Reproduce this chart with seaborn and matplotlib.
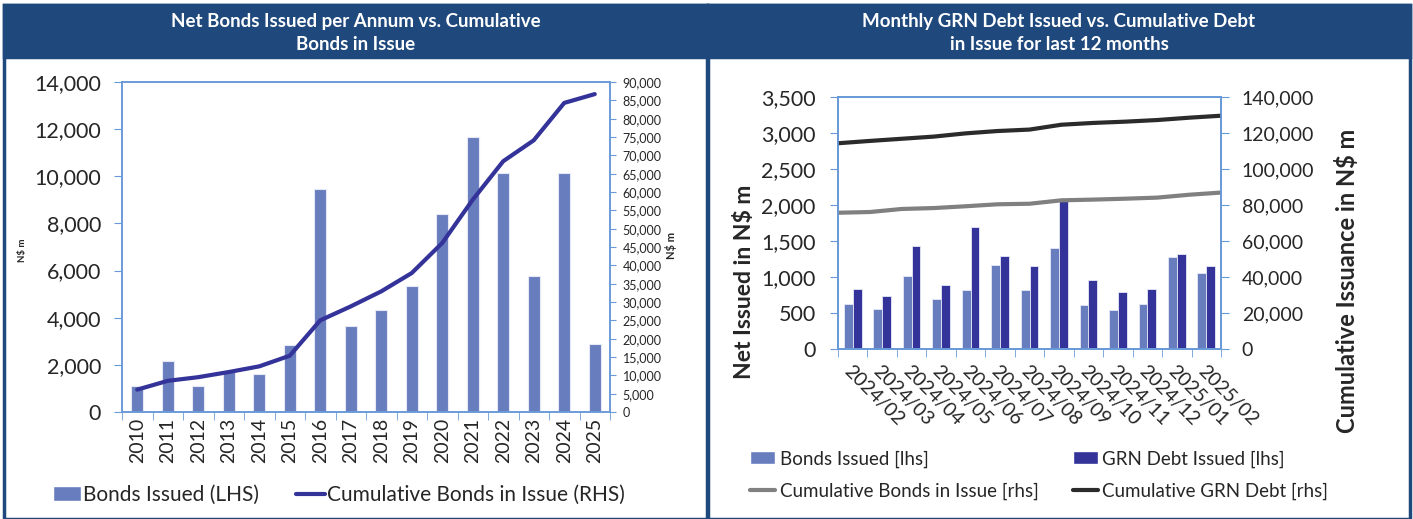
import numpy as np
import pandas as pd
import matplotlib.pyplot as plt
from matplotlib.patches import Rectangle, Patch
from matplotlib.lines import Line2D
import seaborn as sns

# ---- data ----
years = ['2010', '2011', '2012', '2013', '2014', '2015', '2016', '2017',
         '2018', '2019', '2020', '2021', '2022', '2023', '2024', '2025']
bonds_issued = [1090, 2160, 1090, 1690, 1610, 2840, 9470, 3630,
                4330, 5350, 8410, 11660, 10150, 5790, 10120, 2880]
cum_bonds = [6100, 8500, 9500, 10900, 12450, 15350, 25000, 28800,
             32900, 37900, 46100, 57900, 68400, 74100, 84300, 86700]

months = ['2024/02', '2024/03', '2024/04', '2024/05', '2024/06', '2024/07', '2024/08',
          '2024/09', '2024/10', '2024/11', '2024/12', '2025/01', '2025/02']
m_bonds = [625, 550, 1010, 690, 820, 1170, 820, 1400, 610, 540, 630, 1280, 1055]
m_grn = [830, 740, 1425, 890, 1690, 1295, 1150, 2090, 955, 798, 833, 1318, 1158]
m_cum_bonds = [75700, 76100, 77800, 78300, 79300, 80400, 80700,
               82600, 83000, 83500, 84100, 85700, 86900]
m_cum_grn = [114300, 115600, 116800, 118000, 119800, 121100, 121900,
             124600, 125600, 126300, 127200, 128500, 129600]

LIGHT = '#687DBE'
DARK = '#333399'
NAVY = '#1F497D'
AXBLUE = '#6A9BD8'

sns.set_style('white')
plt.rcParams['font.family'] = ['Lato', 'DejaVu Sans']

W, H = 1413, 519
fig = plt.figure(figsize=(W / 100, H / 100), dpi=100)


def rect(x0, y0, x1, y1):
    # pixel box -> figure fraction
    return [x0 / W, 1 - y1 / H, (x1 - x0) / W, (y1 - y0) / H]


# panel frames + title bars (behind the axes)
for x0, x1 in [(4, 707), (708, 1410)]:
    fig.patches.append(Rectangle((x0 / W, 0), (x1 - x0) / W, 1 - 5 / H, transform=fig.transFigure,
                                 facecolor='white', edgecolor=NAVY, lw=2.5, zorder=-5))
    fig.patches.append(Rectangle((x0 / W, 1 - 57 / H), (x1 - x0) / W, 52 / H, transform=fig.transFigure,
                                 facecolor=NAVY, edgecolor=NAVY, lw=2.5, zorder=-4))

fig.text(356 / W, 1 - 33 / H, 'Net Bonds Issued per Annum vs. Cumulative\nBonds in Issue',
         color='white', fontsize=13.5, fontweight='bold', ha='center', va='center', linespacing=1.4)
fig.text(1059 / W, 1 - 33 / H, 'Monthly GRN Debt Issued vs. Cumulative Debt\nin Issue for last 12 months',
         color='white', fontsize=13.5, fontweight='bold', ha='center', va='center', linespacing=1.4)


def style_axes(ax):
    for s in ax.spines.values():
        s.set_color(AXBLUE)
        s.set_linewidth(1.2)
    ax.grid(False)
    ax.patch.set_alpha(0)


# ---------------- left chart ----------------
df_y = pd.DataFrame({'year': years, 'issued': bonds_issued, 'cum': cum_bonds})
df_y['pos'] = np.arange(len(df_y))

ax1 = fig.add_axes(rect(122, 82, 610, 412))
sns.barplot(data=df_y, x='year', y='issued', color=LIGHT, width=0.4, saturation=1,
            edgecolor='#E6E9F5', linewidth=0.8, ax=ax1)
ax1.set_ylim(0, 14000)
ax1.set_xlim(-0.5, len(years) - 0.5)
ax1.set_yticks(range(0, 14001, 2000))
ax1.set_yticklabels([f'{v:,}' for v in range(0, 14001, 2000)], fontsize=15.5)
ax1.set_xticks(np.arange(len(years)))
ax1.set_xticklabels(years, rotation=90, fontsize=14)
ax1.set_xticks(np.arange(-0.5, len(years)), minor=True)
ax1.tick_params(axis='x', which='major', length=0, pad=4)
ax1.tick_params(axis='x', which='minor', length=6, color=AXBLUE, direction='out', bottom=True)
ax1.tick_params(axis='y', length=6, color=AXBLUE, left=True, pad=9)
ax1.set_xlabel('')
ax1.set_ylabel('')
style_axes(ax1)

ax1b = ax1.twinx()
sns.lineplot(data=df_y, x='pos', y='cum', color=DARK, lw=3, ax=ax1b, legend=False)
ax1b.set_ylim(0, 90000)
ax1b.set_yticks(range(0, 90001, 5000))
ax1b.set_yticklabels([f'{v:,}' for v in range(0, 90001, 5000)], fontsize=9)
ax1b.tick_params(axis='y', length=4, color=AXBLUE, right=True, pad=5)
ax1b.set_ylabel('')
style_axes(ax1b)

fig.text(22 / W, 1 - 250 / H, 'N$ m', rotation=90, fontsize=7, fontweight='bold', ha='center', va='center')
fig.text(671 / W, 1 - 245 / H, 'N$ m', rotation=90, fontsize=8, fontweight='bold', ha='center', va='center')

h_left = [Patch(facecolor=LIGHT), Line2D([], [], color=DARK, lw=3)]
fig.legend(h_left, ['Bonds Issued (LHS)', 'Cumulative Bonds in Issue (RHS)'],
           loc='center left', bbox_to_anchor=(34 / W, 1 - 495 / H), ncol=2, frameon=False,
           fontsize=15, handlelength=1.35, handletextpad=0.1, columnspacing=1.8)

# ---------------- right chart ----------------
df_m = pd.DataFrame({'month': months * 2,
                     'series': ['Bonds Issued [lhs]'] * len(months) + ['GRN Debt Issued [lhs]'] * len(months),
                     'value': m_bonds + m_grn})

ax2 = fig.add_axes(rect(838, 97, 1221, 349))
sns.barplot(data=df_m, x='month', y='value', hue='series', palette=[LIGHT, DARK], width=0.6,
            saturation=1, edgecolor='#E6E9F5', linewidth=0.6, ax=ax2, legend=False)
ax2.set_ylim(0, 3500)
ax2.set_xlim(-0.5, len(months) - 0.5)
ax2.set_yticks(range(0, 3501, 500))
ax2.set_yticklabels([f'{v:,}' for v in range(0, 3501, 500)], fontsize=15.5)
ax2.set_xticks(np.arange(len(months)))
ax2.set_xticklabels(months, rotation=-45, ha='left', rotation_mode='anchor', fontsize=14)
ax2.set_xticks(np.arange(-0.5, len(months)), minor=True)
ax2.tick_params(axis='x', which='major', length=0, pad=10)
ax2.tick_params(axis='x', which='minor', length=6, color=AXBLUE, direction='out', bottom=True)
ax2.tick_params(axis='y', length=6, color=AXBLUE, left=True, pad=10)
ax2.set_xlabel('')
ax2.set_ylabel('')
style_axes(ax2)

ax2b = ax2.twinx()
ax2b.set_ylim(0, 140000)
ax2b.set_yticks(range(0, 140001, 20000))
ax2b.set_yticklabels([f'{v:,}' for v in range(0, 140001, 20000)], fontsize=14)
ax2b.tick_params(axis='y', length=6, color=AXBLUE, right=True, pad=9)
style_axes(ax2b)

# lines run edge to edge on their own category axis
ax2c = ax2b.twiny()
df_l = pd.DataFrame({'pos': np.arange(len(months)), 'cb': m_cum_bonds, 'cg': m_cum_grn})
sns.lineplot(data=df_l, x='pos', y='cb', color='#808080', lw=3, ax=ax2c, legend=False)
sns.lineplot(data=df_l, x='pos', y='cg', color='#2B2B2B', lw=3, ax=ax2c, legend=False)
ax2c.set_xlim(0, len(months) - 1)
ax2c.set_xticks([])
ax2c.set_xlabel('')
ax2c.set_ylabel('')
style_axes(ax2c)

fig.text(745 / W, 1 - 282 / H, 'Net Issued in N$ m', rotation=90, fontsize=16.5, fontweight='bold',
         ha='center', va='center')
fig.text(1347 / W, 1 - 281 / H, 'Cumulative Issuance in N$ m', rotation=90, fontsize=17, fontweight='bold',
         ha='center', va='center')

h_right = [Patch(facecolor=LIGHT), Line2D([], [], color='#808080', lw=3),
           Patch(facecolor=DARK), Line2D([], [], color='#2B2B2B', lw=3)]
fig.legend(h_right, ['Bonds Issued [lhs]', 'Cumulative Bonds in Issue [rhs]',
                     'GRN Debt Issued [lhs]', 'Cumulative GRN Debt [rhs]'],
           loc='center left', bbox_to_anchor=(733 / W, 1 - 475 / H), ncol=2, frameon=False,
           fontsize=13.5, handlelength=1.35, handletextpad=0.25, columnspacing=1.8, labelspacing=0.8)

fig.savefig('out.png', dpi=100)
